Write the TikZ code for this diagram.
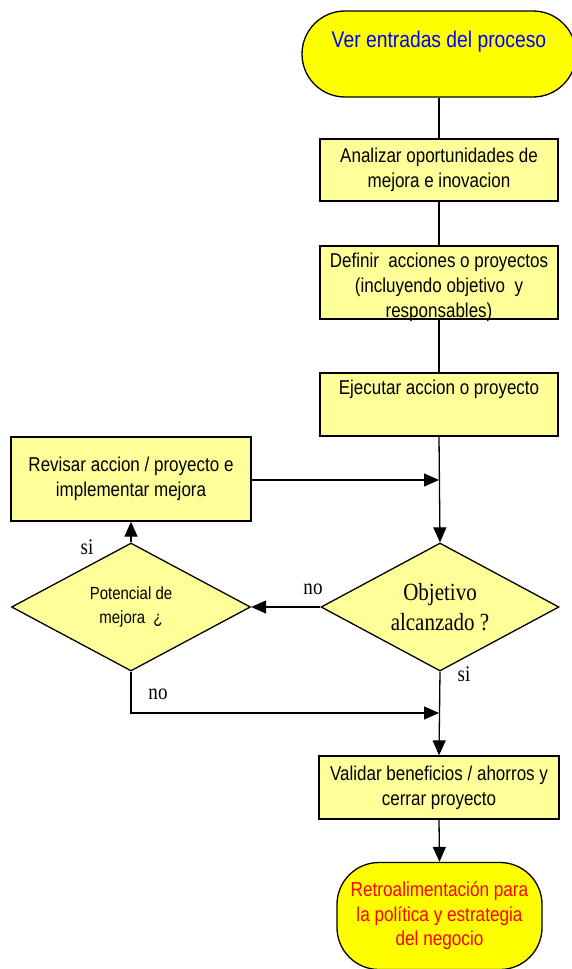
\documentclass[tikz,border=0pt]{standalone}
\usepackage{fontspec}
\setmainfont{Liberation Sans}[FakeStretch=0.85]
\newfontfamily\romanlbl{Liberation Serif}[FakeStretch=0.85]
\usetikzlibrary{shapes.geometric,arrows.meta}
\definecolor{paleyel}{RGB}{255,255,153}
\definecolor{termyel}{RGB}{255,255,0}
\begin{document}
\begin{tikzpicture}[x=1pt,y=-1pt,
  base/.style={draw=black,line width=1.3pt},
  procbox/.style={base,rectangle,fill=paleyel,minimum width=238pt,inner sep=0pt,
    align=center,font=\fontsize{20}{25}\selectfont},
  terminal/.style={base,rectangle,fill=termyel,inner sep=0pt},
  decision/.style={base,diamond,fill=paleyel,inner sep=0pt,aspect=1.86,
    minimum width=238pt,minimum height=128pt,align=center},
  txt/.style={inner sep=0pt,align=center,font=\fontsize{20}{25}\selectfont},
  lbl/.style={inner sep=0pt,font=\romanlbl\fontsize{22.4}{24}\selectfont},
  conn/.style={line width=1.3pt},
  flow/.style={conn,-{Triangle[length=15pt,width=13pt]}}
]
\useasboundingbox (0,0) rectangle (571,969);

% start and end terminals
\node[terminal,rounded corners=43pt,minimum width=274pt,minimum height=86pt] (start) at (439,54) {};
\node[txt,text=blue,font=\fontsize{22.7}{25}\selectfont] (startt) at (439,42) {Ver entradas del proceso};

% process steps in the main column
\node[procbox,minimum height=62pt] (ana) at (439,170) {Analizar oportunidades de\\mejora e inovacion};
\node[procbox,minimum height=73pt] (def) at (439,282.5) {};
\node[txt] (deft) at (439,287) {Definir \ acciones o proyectos\\(incluyendo objetivo \ y\\responsables)};
\node[procbox,minimum height=63pt] (ejec) at (439,404.5) {};
\node[txt] (eject) at (439,389) {Ejecutar accion o proyecto};

% review loop on the left
\node[procbox,minimum width=240pt,minimum height=84pt] (rev) at (131,479) {Revisar accion / proyecto e\\implementar mejora};

% decisions
\node[decision,font=\romanlbl\fontsize{24.7}{30}\selectfont] (obj) at (440,607) {Objetivo\\alcanzado ?};
\node[decision,minimum width=239pt,font=\fontsize{17.6}{24}\selectfont] (pot) at (131,607) {Potencial de\\mejora \ ¿};

% closing steps
\node[procbox,minimum width=240pt,minimum height=63pt] (val) at (439,787.5) {Validar beneficios / ahorros y\\cerrar proyecto};
\node[terminal,rounded corners=42pt,minimum width=205pt,minimum height=107pt,text=red,
  align=center,font=\fontsize{20.2}{24.5}\selectfont] (fin) at (439.5,916) {Retroalimentación para\\la política y estrategia\\del negocio};

% junction points on the main column
\coordinate (j1) at (439,480);
\coordinate (j2) at (439,713);

% connectors
\draw[conn] (start.south) -- (ana.north);
\draw[conn] (ana.south) -- (def.north);
\draw[conn] (def.south) -- (ejec.north);
\draw[flow] (ejec.south) -- (obj.north);
\draw[flow] (rev.east |- j1) -- (j1);
\draw[flow] (obj.west) -- (pot.east);
\draw[flow] (pot.north) -- (rev.south);
\draw[flow] (pot.south) |- (j2);
\draw[flow] (obj.south) -- (val.north);
\draw[flow] (val.south) -- (fin.north);

% branch labels
\node[lbl] (noA) at (313,589) {no};
\node[lbl] (siA) at (464,674) {si};
\node[lbl] (siB) at (87,547) {si};
\node[lbl] (noB) at (158,694) {no};
\end{tikzpicture}
\end{document}
